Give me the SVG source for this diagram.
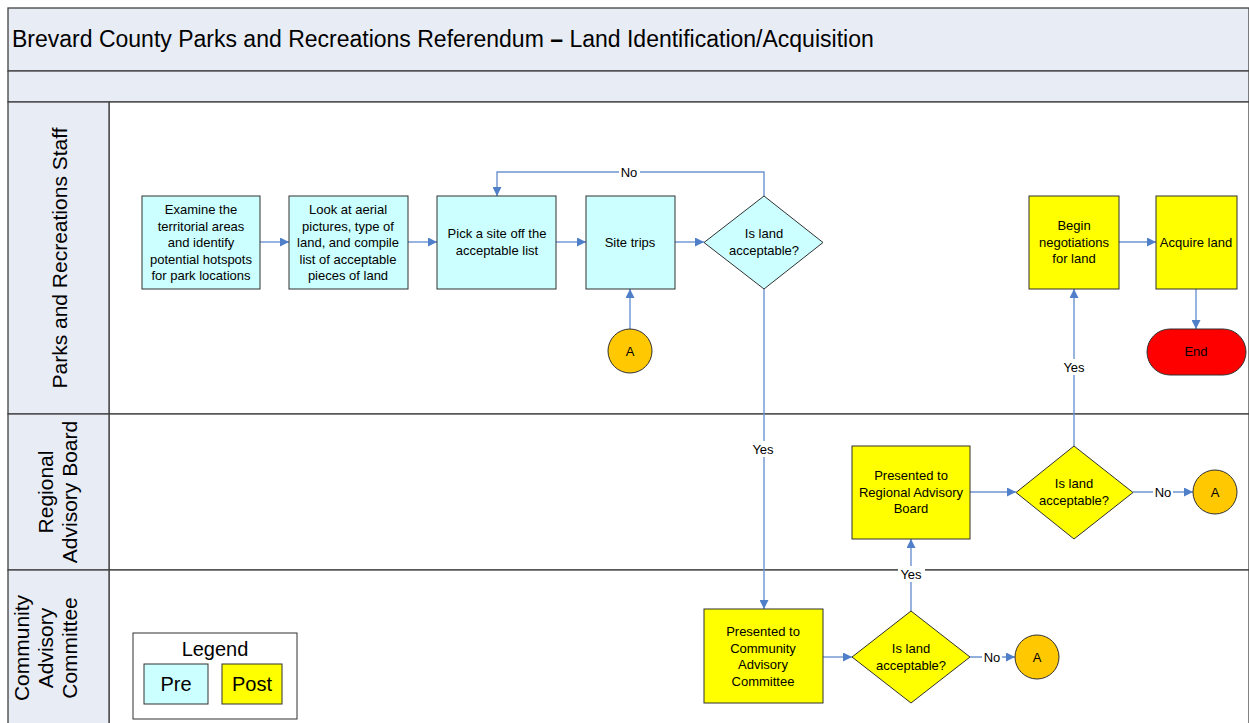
<svg xmlns="http://www.w3.org/2000/svg" width="1249" height="723" viewBox="0 0 1249 723">
  <defs>
    <marker id="arrow" viewBox="0 0 10 10" refX="10" refY="5" markerWidth="9" markerHeight="9" markerUnits="userSpaceOnUse" orient="auto">
      <path d="M0,0 L10,5 L0,10 z" fill="#4F7FC8"/>
    </marker>
    <style>
      text { font-family: "Liberation Sans", Arial, sans-serif; fill: #000; }
      .band { fill: #E8ECF5; stroke: #404040; stroke-width: 1.3; }
      .lane { fill: #FFFFFF; stroke: #404040; stroke-width: 1.3; }
      .pre { fill: #CCFFFF; stroke: #303030; stroke-width: 1; }
      .post { fill: #FFFF00; stroke: #303030; stroke-width: 1; }
      .conn { fill: #FFC800; stroke: #303030; stroke-width: 1; }
      .endn { fill: #FF0000; stroke: #303030; stroke-width: 1; }
      .node { font-size: 13px; text-anchor: middle; }
      .lbl { font-size: 13px; text-anchor: middle; }
      .lanelbl { font-size: 21px; text-anchor: middle; }
      .edge { fill: none; stroke: #6C93D0; stroke-width: 1.4; marker-end: url(#arrow); }
      .lblbg { fill: #FFFFFF; }
    </style>
  </defs>

  <!-- Pool frame, title band and empty header band -->
  <g id="pool">
    <rect class="band" x="8" y="8" width="1241" height="63"/>
    <text x="12" y="47" font-size="23">Brevard County Parks and Recreations Referendum <tspan font-weight="bold">–</tspan> Land Identification/Acquisition</text>
    <rect class="band" x="8" y="71" width="1241" height="31"/>
  </g>

  <!-- Swimlanes -->
  <g id="lane-staff">
    <rect class="lane" x="109" y="102" width="1140" height="312"/>
    <rect class="band" x="8" y="102" width="101" height="312"/>
    <text class="lanelbl" transform="translate(67,258) rotate(-90)">Parks and Recreations Staff</text>
  </g>
  <g id="lane-regional">
    <rect class="lane" x="109" y="414" width="1140" height="156"/>
    <rect class="band" x="8" y="414" width="101" height="156"/>
    <text class="lanelbl" transform="translate(58,492) rotate(-90)"><tspan x="0" dy="-5">Regional</tspan><tspan x="0" dy="24">Advisory Board</tspan></text>
  </g>
  <g id="lane-community">
    <rect class="lane" x="109" y="570" width="1140" height="160"/>
    <rect class="band" x="8" y="570" width="101" height="160"/>
    <text class="lanelbl" transform="translate(46,648) rotate(-90)"><tspan x="0" dy="-17">Community</tspan><tspan x="0" dy="24">Advisory</tspan><tspan x="0" dy="24">Committee</tspan></text>
  </g>

  <!-- Connectors -->
  <g id="connectors">
    <line class="edge" x1="260" y1="242" x2="289" y2="242"/>
    <line class="edge" x1="408" y1="242" x2="437" y2="242"/>
    <line class="edge" x1="556" y1="242" x2="586" y2="242"/>
    <line class="edge" x1="675" y1="242" x2="704" y2="242"/>
    <polyline class="edge" points="764,196 764,172 497,172 497,196"/>
    <line class="edge" x1="630" y1="329" x2="630" y2="289"/>
    <line class="edge" x1="764" y1="289" x2="764" y2="609"/>
    <line class="edge" x1="823" y1="657" x2="852" y2="657"/>
    <line class="edge" x1="970" y1="657" x2="1015" y2="657"/>
    <line class="edge" x1="911" y1="611" x2="911" y2="539"/>
    <line class="edge" x1="970" y1="492" x2="1016" y2="492"/>
    <line class="edge" x1="1133" y1="492" x2="1193" y2="492"/>
    <line class="edge" x1="1074" y1="446" x2="1074" y2="289"/>
    <line class="edge" x1="1119" y1="242" x2="1156" y2="242"/>
    <line class="edge" x1="1196" y1="289" x2="1196" y2="329"/>

    <rect class="lblbg" x="619" y="164" width="21" height="16"/>
    <text class="lbl" x="629" y="177">No</text>
    <rect class="lblbg" x="750" y="441" width="27" height="16"/>
    <text class="lbl" x="763" y="454">Yes</text>
    <rect class="lblbg" x="1060" y="359" width="27" height="16"/>
    <text class="lbl" x="1074" y="372">Yes</text>
    <rect class="lblbg" x="898" y="566" width="27" height="16"/>
    <text class="lbl" x="911" y="579">Yes</text>
    <rect class="lblbg" x="1153" y="484" width="20" height="16"/>
    <text class="lbl" x="1163" y="497">No</text>
    <rect class="lblbg" x="982" y="649" width="20" height="16"/>
    <text class="lbl" x="992" y="662">No</text>
  </g>

  <!-- Pre-referendum steps -->
  <g id="examine">
    <rect class="pre" x="142" y="196" width="118" height="93"/>
    <text class="node" x="201" y="214"><tspan x="201">Examine the</tspan><tspan x="201" dy="16.5">territorial areas</tspan><tspan x="201" dy="16.5">and identify</tspan><tspan x="201" dy="16.5">potential hotspots</tspan><tspan x="201" dy="16.5">for park locations</tspan></text>
  </g>
  <g id="look">
    <rect class="pre" x="289" y="196" width="119" height="93"/>
    <text class="node" x="348" y="214"><tspan x="348">Look at aerial</tspan><tspan x="348" dy="16.5">pictures, type of</tspan><tspan x="348" dy="16.5">land, and compile</tspan><tspan x="348" dy="16.5">list of acceptable</tspan><tspan x="348" dy="16.5">pieces of land</tspan></text>
  </g>
  <g id="pick">
    <rect class="pre" x="437" y="196" width="119" height="93"/>
    <text class="node" x="497" y="238"><tspan x="497">Pick a site off the</tspan><tspan x="497" dy="16.5">acceptable list</tspan></text>
  </g>
  <g id="site-trips">
    <rect class="pre" x="586" y="196" width="89" height="93"/>
    <text class="node" x="630" y="247">Site trips</text>
  </g>
  <g id="decision-staff">
    <polygon class="pre" points="764,196 823,242.5 764,289 704,242.5"/>
    <text class="node" x="764" y="238"><tspan x="764">Is land</tspan><tspan x="764" dy="16.5">acceptable?</tspan></text>
  </g>
  <g id="ref-a-staff">
    <circle class="conn" cx="630" cy="351" r="22"/>
    <text class="node" x="630" y="356">A</text>
  </g>

  <!-- Post-referendum steps -->
  <g id="community">
    <rect class="post" x="704" y="609" width="119" height="94"/>
    <text class="node" x="763" y="636"><tspan x="763">Presented to</tspan><tspan x="763" dy="16.5">Community</tspan><tspan x="763" dy="16.5">Advisory</tspan><tspan x="763" dy="16.5">Committee</tspan></text>
  </g>
  <g id="decision-community">
    <polygon class="post" points="911,611 970,657 911,703 852,657"/>
    <text class="node" x="911" y="653"><tspan x="911">Is land</tspan><tspan x="911" dy="16.5">acceptable?</tspan></text>
  </g>
  <g id="ref-a-community">
    <circle class="conn" cx="1037" cy="657" r="22"/>
    <text class="node" x="1037" y="662">A</text>
  </g>
  <g id="regional">
    <rect class="post" x="852" y="446" width="118" height="93"/>
    <text class="node" x="911" y="480"><tspan x="911">Presented to</tspan><tspan x="911" dy="16.5">Regional Advisory</tspan><tspan x="911" dy="16.5">Board</tspan></text>
  </g>
  <g id="decision-regional">
    <polygon class="post" points="1074,446 1133,492.5 1074,539 1016,492.5"/>
    <text class="node" x="1074" y="488"><tspan x="1074">Is land</tspan><tspan x="1074" dy="16.5">acceptable?</tspan></text>
  </g>
  <g id="ref-a-regional">
    <circle class="conn" cx="1215" cy="492" r="22"/>
    <text class="node" x="1215" y="497">A</text>
  </g>
  <g id="negotiate">
    <rect class="post" x="1029" y="196" width="90" height="93"/>
    <text class="node" x="1074" y="230"><tspan x="1074">Begin</tspan><tspan x="1074" dy="16.5">negotiations</tspan><tspan x="1074" dy="16.5">for land</tspan></text>
  </g>
  <g id="acquire">
    <rect class="post" x="1156" y="196" width="81" height="93"/>
    <text class="node" x="1196" y="247">Acquire land</text>
  </g>
  <g id="end">
    <rect class="endn" x="1147" y="329" width="99" height="46" rx="23" ry="23"/>
    <text class="node" x="1196" y="356">End</text>
  </g>

  <!-- Legend -->
  <g id="legend">
    <rect x="133" y="633" width="164" height="86" fill="#FFFFFF" stroke="#303030" stroke-width="1"/>
    <text x="215" y="656" font-size="20" text-anchor="middle">Legend</text>
    <rect class="pre" x="144" y="664" width="64" height="40"/>
    <text x="176" y="691" font-size="20" text-anchor="middle">Pre</text>
    <rect class="post" x="222" y="664" width="60" height="40"/>
    <text x="252" y="691" font-size="20" text-anchor="middle">Post</text>
  </g>
</svg>
